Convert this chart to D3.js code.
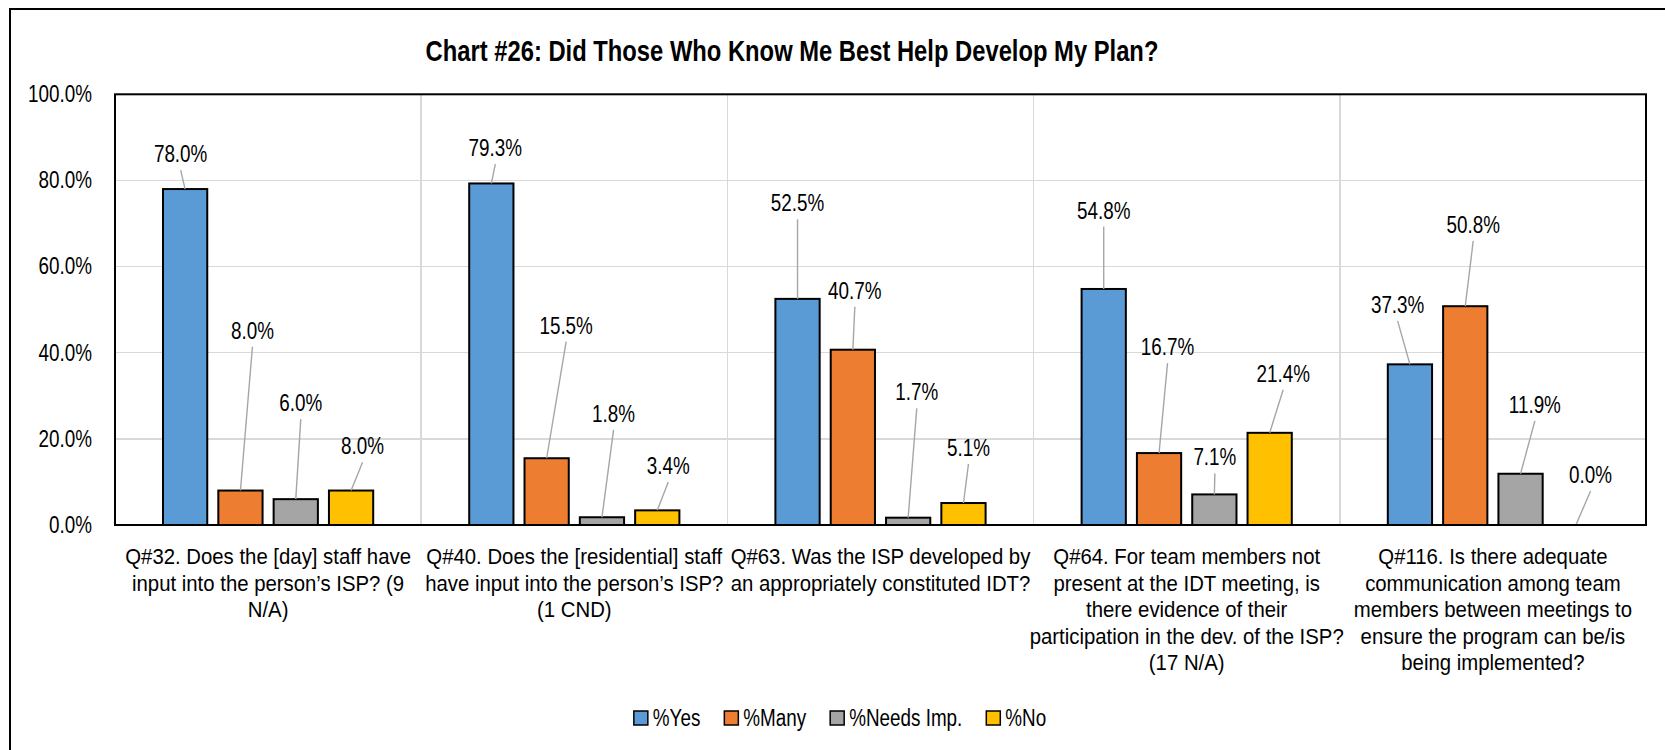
<!DOCTYPE html>
<meta charset="utf-8">
<style>
    body {
        margin: 0;
        background: white;
    }

    svg {
        font-family: "Liberation Sans", Arial, sans-serif;
    }

    .grid line {
        stroke: #d9d9d9;
        stroke-width: 1.5;
        shape-rendering: crispEdges;
    }
    .leader {
        stroke: #a6a6a6;
        stroke-width: 1.4;
    }
</style>
<body>
<script src="https://cdn.jsdelivr.net/npm/d3@7"></script>
<script>
    // values (fractions)
    const categories = ["Q#32", "Q#40", "Q#63", "Q#64", "Q#116"];
    const categoryText = [
        ["Q#32. Does the [day] staff have", "input into the person\u2019s ISP? (9", "N/A)"],
        ["Q#40. Does the [residential] staff", "have input into the person\u2019s ISP?", "(1 CND)"],
        ["Q#63. Was the ISP developed by", "an appropriately constituted IDT?"],
        ["Q#64. For team members not", "present at the IDT meeting, is", "there evidence of their", "participation in the dev. of the ISP?", "(17 N/A)"],
        ["Q#116. Is there adequate", "communication among team", "members between meetings to", "ensure the program can be/is", "being implemented?"]
    ];
    const seriesNames = ["%Yes", "%Many", "%Needs Imp.", "%No"];
    const yes = [0.780, 0.793, 0.525, 0.548, 0.373];
    const many = [0.080, 0.155, 0.407, 0.167, 0.508];
    const needsImp = [0.060, 0.018, 0.017, 0.071, 0.119];
    const no = [0.080, 0.034, 0.051, 0.214, 0.000];
    const yTicks = [0, 0.2, 0.4, 0.6, 0.8, 1.0];

    // where the (hand placed) data labels sit, in axis units, plus sideways shift
    const yesLabelAt = [0.861, 0.875, 0.747, 0.730, 0.511];
    const manyLabelAt = [0.451, 0.463, 0.544, 0.413, 0.697];
    const needsLabelAt = [0.283, 0.258, 0.308, 0.157, 0.279];
    const noLabelAt = [0.183, 0.137, 0.179, 0.351, 0.116];
    const yesShift = [-4.5, 4, 0, 0, -12.3];
    const manyShift = [12, 19.5, 2, 8.5, 8];
    const needsShift = [5, 11.6, 8.6, 0.5, 14.3];
    const noShift = [11.5, 11, 5, 13.5, 14.7];

    const seriesValues = [yes, many, needsImp, no];
    const labelLevels = [yesLabelAt, manyLabelAt, needsLabelAt, noLabelAt];
    const labelShifts = [yesShift, manyShift, needsShift, noShift];

    const width = 1665;
    const height = 750;
    const plot = {left: 115, right: 1646, top: 94.3, bottom: 525};
    const narrow = 0.82; // no Arial Narrow here, squeeze Liberation Sans instead

    const color = d3.scaleOrdinal()
        .domain(seriesNames)
        .range(["#5b9bd5", "#ed7d31", "#a5a5a5", "#ffc000"]);

    const svg = d3.select('body')
        .append('svg')
        .attr('width', width)
        .attr('height', height);

    // text squeezed sideways around its anchor point
    function narrowText(parent, x, y, k) {
        return parent.append('g')
            .attr('transform', 'translate(' + x + ',' + y + ') scale(' + (k || narrow) + ',1)')
            .append('text');
    }

    // outer chart border (runs off the picture at right and bottom)
    svg.append('rect')
        .attr('x', 10)
        .attr('y', 9)
        .attr('width', width + 40)
        .attr('height', height + 40)
        .attr('fill', 'white')
        .attr('stroke', 'black')
        .attr('stroke-width', 2);

    const x0 = d3.scaleBand()
        .domain(categories)
        .range([plot.left, plot.right])
        .padding(0);

    const x1 = d3.scaleBand()
        .domain(seriesNames)
        .range([48, x0.bandwidth() - 48])
        .paddingInner(0.2);

    const y = d3.scaleLinear()
        .domain([0, 1])
        .range([plot.bottom, plot.top]);

    // horizontal gridlines
    svg.append('g')
        .attr('class', 'grid')
        .selectAll('line')
        .data(yTicks.slice(1))
        .enter().append('line')
        .attr('x1', plot.left)
        .attr('x2', plot.right)
        .attr('y1', d => y(d))
        .attr('y2', d => y(d));

    // vertical gridlines between categories
    svg.append('g')
        .attr('class', 'grid')
        .selectAll('line')
        .data(categories.slice(1))
        .enter().append('line')
        .attr('x1', d => x0(d))
        .attr('x2', d => x0(d))
        .attr('y1', plot.top)
        .attr('y2', plot.bottom);

    // y axis labels
    const yAxis = d3.axisLeft(y)
        .tickValues(yTicks)
        .tickFormat(d3.format('.1%'))
        .tickSize(0)
        .tickPadding(23);

    svg.append('g')
        .attr('transform', 'translate(' + plot.left + ',0)')
        .call(yAxis)
        .call(g => g.select('.domain').remove())
        .selectAll('text')
        .attr('x', -23 / narrow)
        .attr('transform', 'scale(' + narrow + ',1)')
        .style('font-size', '23px')
        .style('font-family', null)
        .attr('fill', '#000');

    // bars, one group per category
    const rows = categories.map((c, i) => seriesNames.map((s, j) => ({
        cat: c, series: s, value: seriesValues[j][i],
        level: labelLevels[j][i], shift: labelShifts[j][i]
    })));

    const groups = svg.append('g')
        .selectAll('g')
        .data(rows)
        .enter().append('g')
        .attr('transform', (d, i) => 'translate(' + x0(categories[i]) + ',0)');

    groups.selectAll('rect')
        .data(d => d)
        .enter().append('rect')
        .attr('x', d => x1(d.series))
        .attr('y', d => y(d.value))
        .attr('width', x1.bandwidth())
        .attr('height', d => y(0) - y(d.value))
        .attr('fill', d => color(d.series))
        .attr('stroke', 'black')
        .attr('stroke-width', 2);

    // leader lines from labels to bar tops
    groups.selectAll('line.leader')
        .data(d => d)
        .enter().append('line')
        .attr('class', 'leader')
        .attr('x1', d => x1(d.series) + x1.bandwidth() / 2 + d.shift)
        .attr('y1', d => y(d.level) + 16)
        .attr('x2', d => x1(d.series) + x1.bandwidth() / 2)
        .attr('y2', d => y(d.value));

    groups.each(function (row) {
        const g = d3.select(this);
        row.forEach(d => {
            narrowText(g, x1(d.series) + x1.bandwidth() / 2 + d.shift, y(d.level))
                .attr('dy', '0.35em')
                .attr('text-anchor', 'middle')
                .style('font-size', '23px')
                .text(d3.format('.1%')(d.value));
        });
    });

    // plot area frame
    svg.append('rect')
        .attr('x', plot.left)
        .attr('y', plot.top)
        .attr('width', plot.right - plot.left)
        .attr('height', plot.bottom - plot.top)
        .attr('fill', 'none')
        .attr('stroke', 'black')
        .attr('stroke-width', 2);

    // category labels under the axis (Excel spaces these a bit wider)
    categoryText.forEach((lines, i) => {
        narrowText(svg, x0(categories[i]) + x0.bandwidth() / 2, 556, 0.885)
            .attr('text-anchor', 'middle')
            .style('font-size', '23px')
            .selectAll('tspan')
            .data(lines)
            .enter().append('tspan')
            .attr('x', 0)
            .attr('dy', (d, k) => k === 0 ? '0.35em' : '26.5px')
            .text(d => d);
    });

    // title
    narrowText(svg, 792, 51)
        .attr('dy', '0.35em')
        .attr('text-anchor', 'middle')
        .style('font-size', '29px')
        .style('font-weight', 'bold')
        .text('Chart #26: Did Those Who Know Me Best Help Develop My Plan?');

    // legend, centred under the chart
    const legend = svg.append('g');

    let lx = 0;
    seriesNames.forEach(s => {
        const item = legend.append('g').attr('transform', 'translate(' + lx + ',0)');
        item.append('rect')
            .attr('x', 0)
            .attr('y', -7)
            .attr('width', 14)
            .attr('height', 14)
            .attr('fill', color(s))
            .attr('stroke', 'black')
            .attr('stroke-width', 1.5);
        const t = narrowText(item, 19, 0)
            .attr('dy', '0.35em')
            .style('font-size', '23px')
            .text(s);
        lx += 19 + t.node().getComputedTextLength() * narrow + 24;
    });
    const legendWidth = lx - 24;
    legend.attr('transform', 'translate(' + (840 - legendWidth / 2) + ',718)');
</script>
</body>
</html>
